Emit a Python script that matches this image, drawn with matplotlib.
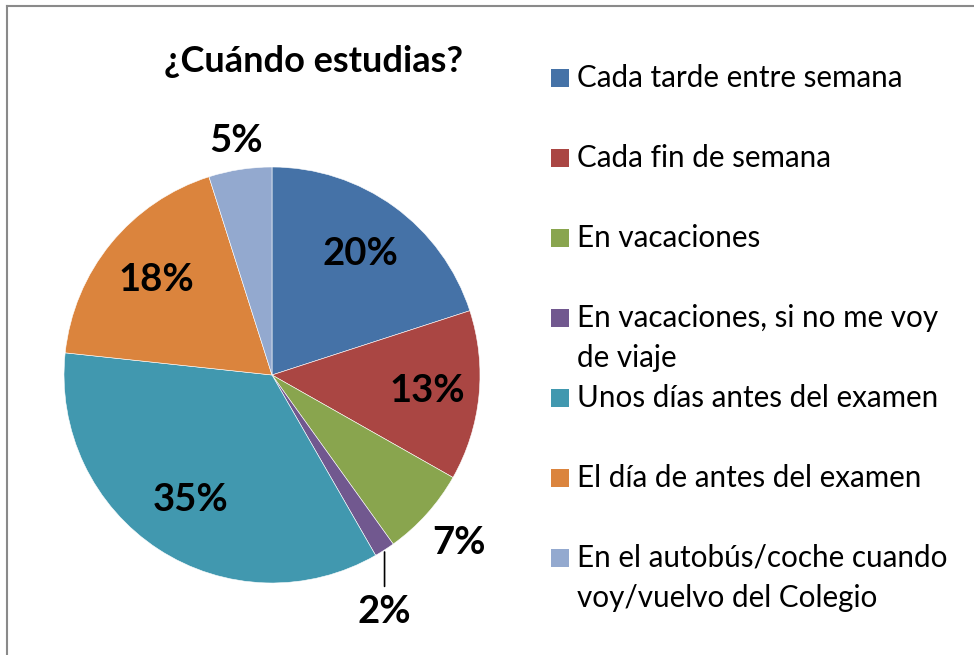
import matplotlib.pyplot as plt
import matplotlib.lines as mlines
import matplotlib.patches as mpatches
import numpy as np

plt.rcParams['font.family'] = ['Lato', 'DejaVu Sans']

title = "¿Cuándo estudias?"
categories = ["Cada tarde entre semana",
              "Cada fin de semana",
              "En vacaciones",
              "En vacaciones, si no me voy\nde viaje",
              "Unos días antes del examen",
              "El día de antes del examen",
              "En el autobús/coche cuando\nvoy/vuelvo del Colegio"]
values = [20.0, 13.2, 6.9, 1.6, 35.0, 18.4, 4.9]
labels = ["20%", "13%", "7%", "2%", "35%", "18%", "5%"]
colors = ["#4572A7", "#AA4643", "#89A54E", "#71588F", "#4198AF", "#DB843D", "#93A9CF"]
# radial label distance (None = label below with a leader line)
label_dist = [0.72, 0.75, 1.21, None, 0.72, 0.72, 1.14]

W, H = 974, 655
fig = plt.figure(figsize=(W / 100, H / 100), dpi=100)

# pie centre and radius in pixels
cx, cy, r = 272, 375, 208
ax = fig.add_axes([(cx - r) / W, 1 - (cy + r) / H, 2 * r / W, 2 * r / H])
wedges, _ = ax.pie(values, colors=colors, startangle=90, counterclock=False,
                   radius=1, wedgeprops=dict(linewidth=0.4, edgecolor="white"))
ax.set_xlim(-1, 1)
ax.set_ylim(-1, 1)
ax.set_aspect("equal")
ax.axis("off")

for w, lab, d in zip(wedges, labels, label_dist):
    mid = np.deg2rad((w.theta1 + w.theta2) / 2)
    x, y = np.cos(mid), np.sin(mid)
    if d is None:
        ax.annotate(lab, xy=(x, y - 0.01), xytext=(0, -43), textcoords="offset points",
                    ha="center", va="center", fontsize=27.5, fontweight="bold",
                    arrowprops=dict(arrowstyle="-", color="black", lw=1.2,
                                    shrinkA=4, shrinkB=0), annotation_clip=False)
    else:
        ax.text(d * x, d * y, lab, ha="center", va="center",
                fontsize=27.5, fontweight="bold", clip_on=False)

fig.text(313 / W, 1 - 62 / H, title, ha="center", va="center",
         fontsize=26, fontweight="bold")

# legend
for i, (lab, col) in enumerate(zip(categories, colors)):
    yc = 78 + 80 * i
    fig.patches.append(mpatches.Rectangle((551 / W, 1 - (yc + 9) / H), 18 / W, 18 / H,
                                          transform=fig.transFigure, facecolor=col,
                                          edgecolor="none"))
    for j, line in enumerate(lab.split("\n")):
        fig.text(577 / W, 1 - (yc + 9 + 40 * j) / H, line, ha="left", va="baseline",
                 fontsize=21.3)

# chart frame (top and left edges visible)
fig.add_artist(mlines.Line2D([7 / W, 1], [1 - 6 / H, 1 - 6 / H], color="#8a8a8a", lw=1.5))
fig.add_artist(mlines.Line2D([7 / W, 7 / W], [0, 1 - 6 / H], color="#8a8a8a", lw=1.5))

fig.savefig("out.png", dpi=100)
